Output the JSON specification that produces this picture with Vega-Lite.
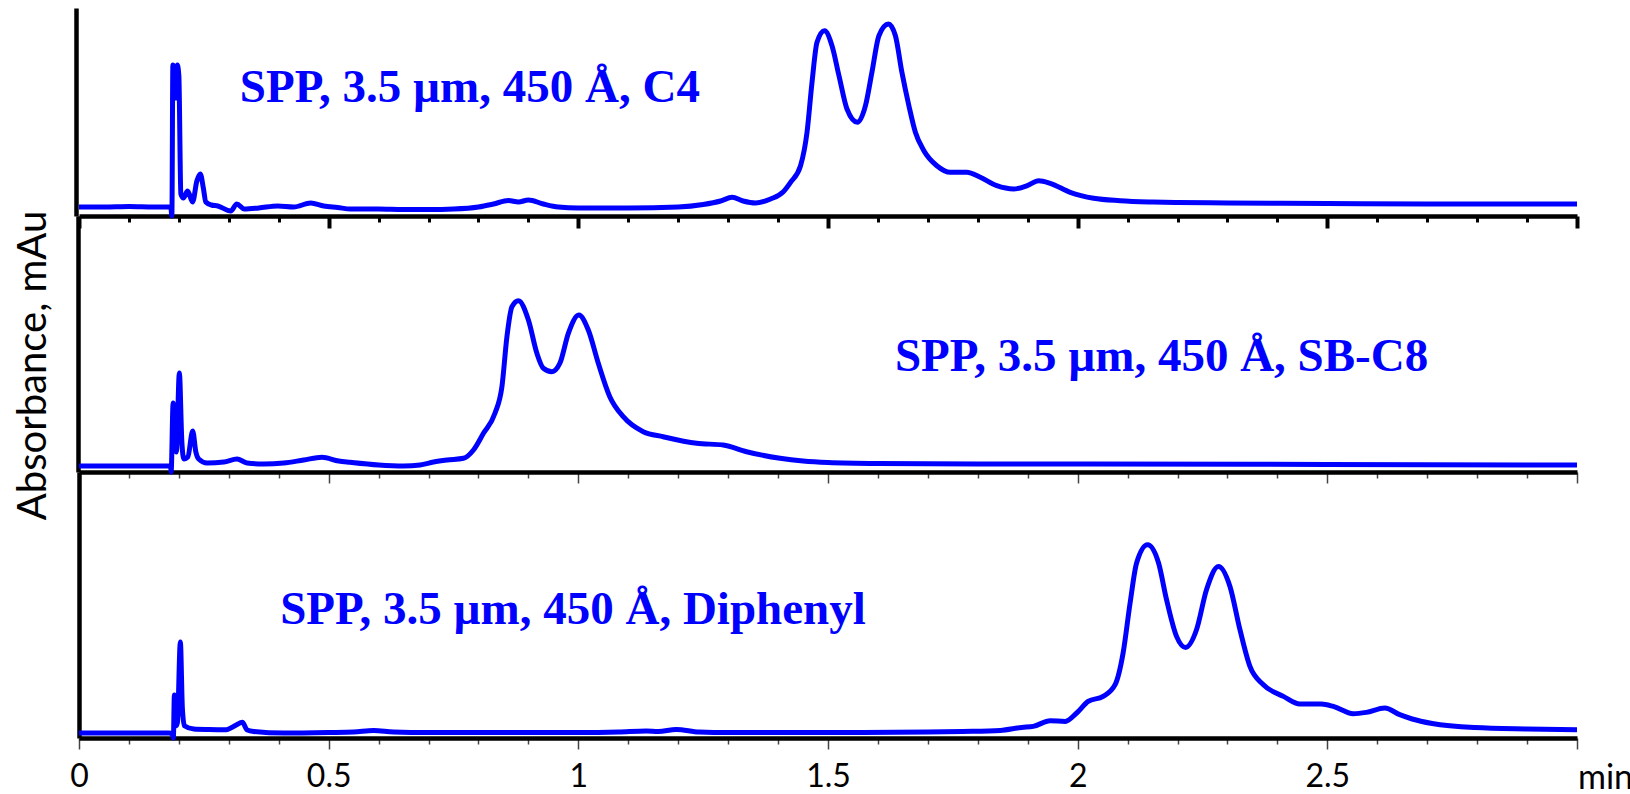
{
  "$schema": "https://vega.github.io/schema/vega-lite/v6.json",
  "background": "white",
  "padding": {"left": 12, "top": 8, "right": 2, "bottom": 0},
  "spacing": 0,
  "bounds": "flush",
  "config": {"view": {"stroke": null}, "axis": {"grid": false}},
  "datasets": {
    "traces": [
      {"column":"C4","time":0,"mAu":9},{"column":"C4","time":0.05,"mAu":9},{"column":"C4","time":0.1,"mAu":9.5},{"column":"C4","time":0.15,"mAu":9},{"column":"C4","time":0.18,"mAu":9},{"column":"C4","time":0.184,"mAu":8},{"column":"C4","time":0.186,"mAu":0},{"column":"C4","time":0.188,"mAu":151},{"column":"C4","time":0.191,"mAu":125},{"column":"C4","time":0.194,"mAu":118},{"column":"C4","time":0.197,"mAu":151},{"column":"C4","time":0.2,"mAu":140},{"column":"C4","time":0.204,"mAu":22},{"column":"C4","time":0.209,"mAu":18},{"column":"C4","time":0.2175,"mAu":25},{"column":"C4","time":0.2275,"mAu":14},{"column":"C4","time":0.236,"mAu":35},{"column":"C4","time":0.243,"mAu":42},{"column":"C4","time":0.249,"mAu":28},{"column":"C4","time":0.254,"mAu":14},{"column":"C4","time":0.265,"mAu":11},{"column":"C4","time":0.278,"mAu":10},{"column":"C4","time":0.304,"mAu":5},{"column":"C4","time":0.316,"mAu":12},{"column":"C4","time":0.331,"mAu":7},{"column":"C4","time":0.36,"mAu":8},{"column":"C4","time":0.398,"mAu":10},{"column":"C4","time":0.43,"mAu":9},{"column":"C4","time":0.464,"mAu":13},{"column":"C4","time":0.49,"mAu":10},{"column":"C4","time":0.518,"mAu":8.5},{"column":"C4","time":0.544,"mAu":7},{"column":"C4","time":0.6,"mAu":7},{"column":"C4","time":0.65,"mAu":6.5},{"column":"C4","time":0.7,"mAu":6.5},{"column":"C4","time":0.75,"mAu":7},{"column":"C4","time":0.8,"mAu":9},{"column":"C4","time":0.83,"mAu":12},{"column":"C4","time":0.86,"mAu":15.5},{"column":"C4","time":0.88,"mAu":14},{"column":"C4","time":0.9,"mAu":16},{"column":"C4","time":0.93,"mAu":12},{"column":"C4","time":0.96,"mAu":9},{"column":"C4","time":1.0,"mAu":8},{"column":"C4","time":1.1,"mAu":8},{"column":"C4","time":1.2,"mAu":9},{"column":"C4","time":1.25,"mAu":11.5},{"column":"C4","time":1.285,"mAu":15},{"column":"C4","time":1.308,"mAu":18.7},{"column":"C4","time":1.33,"mAu":15},{"column":"C4","time":1.355,"mAu":13},{"column":"C4","time":1.385,"mAu":17},{"column":"C4","time":1.41,"mAu":24},{"column":"C4","time":1.425,"mAu":33.7},{"column":"C4","time":1.445,"mAu":50.3},{"column":"C4","time":1.458,"mAu":83.7},{"column":"C4","time":1.468,"mAu":133.7},{"column":"C4","time":1.478,"mAu":173.7},{"column":"C4","time":1.493,"mAu":185.3},{"column":"C4","time":1.508,"mAu":170.3},{"column":"C4","time":1.522,"mAu":140.3},{"column":"C4","time":1.538,"mAu":107},{"column":"C4","time":1.559,"mAu":93.7},{"column":"C4","time":1.575,"mAu":110.3},{"column":"C4","time":1.588,"mAu":143.7},{"column":"C4","time":1.602,"mAu":180.3},{"column":"C4","time":1.621,"mAu":192},{"column":"C4","time":1.635,"mAu":180.3},{"column":"C4","time":1.648,"mAu":143.7},{"column":"C4","time":1.662,"mAu":110.3},{"column":"C4","time":1.675,"mAu":83.7},{"column":"C4","time":1.692,"mAu":65.3},{"column":"C4","time":1.718,"mAu":50.3},{"column":"C4","time":1.745,"mAu":43.7},{"column":"C4","time":1.778,"mAu":43.7},{"column":"C4","time":1.805,"mAu":38.7},{"column":"C4","time":1.838,"mAu":30.3},{"column":"C4","time":1.872,"mAu":27},{"column":"C4","time":1.899,"mAu":30.3},{"column":"C4","time":1.922,"mAu":35.3},{"column":"C4","time":1.945,"mAu":32.7},{"column":"C4","time":1.985,"mAu":23.7},{"column":"C4","time":2.032,"mAu":17.7},{"column":"C4","time":2.085,"mAu":15.3},{"column":"C4","time":2.15,"mAu":14},{"column":"C4","time":2.2,"mAu":13.5},{"column":"C4","time":2.3,"mAu":13},{"column":"C4","time":2.5,"mAu":12.5},{"column":"C4","time":2.7,"mAu":12},{"column":"C4","time":3.0,"mAu":12},

      {"column":"SB-C8","time":0,"mAu":6},{"column":"SB-C8","time":0.1,"mAu":6},{"column":"SB-C8","time":0.17,"mAu":6},{"column":"SB-C8","time":0.1835,"mAu":6},{"column":"SB-C8","time":0.1845,"mAu":0},{"column":"SB-C8","time":0.1885,"mAu":69},{"column":"SB-C8","time":0.195,"mAu":20},{"column":"SB-C8","time":0.201,"mAu":99},{"column":"SB-C8","time":0.206,"mAu":30},{"column":"SB-C8","time":0.21,"mAu":13},{"column":"SB-C8","time":0.218,"mAu":15},{"column":"SB-C8","time":0.2277,"mAu":41},{"column":"SB-C8","time":0.234,"mAu":20},{"column":"SB-C8","time":0.2397,"mAu":13},{"column":"SB-C8","time":0.2565,"mAu":9},{"column":"SB-C8","time":0.29,"mAu":10},{"column":"SB-C8","time":0.3165,"mAu":13},{"column":"SB-C8","time":0.3365,"mAu":9},{"column":"SB-C8","time":0.37,"mAu":8},{"column":"SB-C8","time":0.41,"mAu":9},{"column":"SB-C8","time":0.45,"mAu":12},{"column":"SB-C8","time":0.4866,"mAu":14.7},{"column":"SB-C8","time":0.52,"mAu":11},{"column":"SB-C8","time":0.543,"mAu":9.7},{"column":"SB-C8","time":0.6,"mAu":7},{"column":"SB-C8","time":0.65,"mAu":6},{"column":"SB-C8","time":0.683,"mAu":7},{"column":"SB-C8","time":0.71,"mAu":10},{"column":"SB-C8","time":0.737,"mAu":12},{"column":"SB-C8","time":0.77,"mAu":13.7},{"column":"SB-C8","time":0.79,"mAu":22},{"column":"SB-C8","time":0.81,"mAu":38.7},{"column":"SB-C8","time":0.833,"mAu":58.7},{"column":"SB-C8","time":0.847,"mAu":85.3},{"column":"SB-C8","time":0.857,"mAu":135.3},{"column":"SB-C8","time":0.867,"mAu":165.3},{"column":"SB-C8","time":0.88,"mAu":171.3},{"column":"SB-C8","time":0.9,"mAu":152},{"column":"SB-C8","time":0.917,"mAu":118.7},{"column":"SB-C8","time":0.93,"mAu":103.7},{"column":"SB-C8","time":0.947,"mAu":100.3},{"column":"SB-C8","time":0.963,"mAu":108.7},{"column":"SB-C8","time":0.98,"mAu":138.7},{"column":"SB-C8","time":1.001,"mAu":157},{"column":"SB-C8","time":1.02,"mAu":142},{"column":"SB-C8","time":1.04,"mAu":108.7},{"column":"SB-C8","time":1.063,"mAu":75.3},{"column":"SB-C8","time":1.09,"mAu":55.3},{"column":"SB-C8","time":1.13,"mAu":40.3},{"column":"SB-C8","time":1.17,"mAu":35.3},{"column":"SB-C8","time":1.237,"mAu":28.7},{"column":"SB-C8","time":1.29,"mAu":27},{"column":"SB-C8","time":1.337,"mAu":20.3},{"column":"SB-C8","time":1.404,"mAu":13.7},{"column":"SB-C8","time":1.45,"mAu":11},{"column":"SB-C8","time":1.5,"mAu":9.5},{"column":"SB-C8","time":1.6,"mAu":8.5},{"column":"SB-C8","time":1.8,"mAu":8},{"column":"SB-C8","time":2.0,"mAu":8},{"column":"SB-C8","time":2.5,"mAu":7.5},{"column":"SB-C8","time":3.0,"mAu":7},

      {"column":"Diphenyl","time":0,"mAu":5},{"column":"Diphenyl","time":0.1,"mAu":5},{"column":"Diphenyl","time":0.18,"mAu":5},{"column":"Diphenyl","time":0.187,"mAu":4},{"column":"Diphenyl","time":0.189,"mAu":0},{"column":"Diphenyl","time":0.191,"mAu":43},{"column":"Diphenyl","time":0.194,"mAu":12},{"column":"Diphenyl","time":0.197,"mAu":15},{"column":"Diphenyl","time":0.203,"mAu":96},{"column":"Diphenyl","time":0.207,"mAu":30},{"column":"Diphenyl","time":0.211,"mAu":12.3},{"column":"Diphenyl","time":0.23,"mAu":9},{"column":"Diphenyl","time":0.26,"mAu":8.5},{"column":"Diphenyl","time":0.295,"mAu":8.3},{"column":"Diphenyl","time":0.315,"mAu":13},{"column":"Diphenyl","time":0.327,"mAu":15.7},{"column":"Diphenyl","time":0.337,"mAu":8},{"column":"Diphenyl","time":0.35,"mAu":6.6},{"column":"Diphenyl","time":0.41,"mAu":5},{"column":"Diphenyl","time":0.5,"mAu":5.5},{"column":"Diphenyl","time":0.55,"mAu":6},{"column":"Diphenyl","time":0.59,"mAu":7.5},{"column":"Diphenyl","time":0.63,"mAu":6},{"column":"Diphenyl","time":0.7,"mAu":5.5},{"column":"Diphenyl","time":0.8,"mAu":5.5},{"column":"Diphenyl","time":0.9,"mAu":5.5},{"column":"Diphenyl","time":1.0,"mAu":5.5},{"column":"Diphenyl","time":1.08,"mAu":6},{"column":"Diphenyl","time":1.136,"mAu":7},{"column":"Diphenyl","time":1.16,"mAu":6.5},{"column":"Diphenyl","time":1.196,"mAu":8.6},{"column":"Diphenyl","time":1.242,"mAu":6},{"column":"Diphenyl","time":1.3,"mAu":5.5},{"column":"Diphenyl","time":1.4,"mAu":5.5},{"column":"Diphenyl","time":1.57,"mAu":5.6},{"column":"Diphenyl","time":1.7,"mAu":6},{"column":"Diphenyl","time":1.769,"mAu":6.6},{"column":"Diphenyl","time":1.845,"mAu":7.6},{"column":"Diphenyl","time":1.888,"mAu":10.6},{"column":"Diphenyl","time":1.911,"mAu":11.6},{"column":"Diphenyl","time":1.945,"mAu":17.3},{"column":"Diphenyl","time":1.975,"mAu":16.6},{"column":"Diphenyl","time":1.998,"mAu":25},{"column":"Diphenyl","time":2.021,"mAu":36.6},{"column":"Diphenyl","time":2.051,"mAu":41.6},{"column":"Diphenyl","time":2.075,"mAu":53.3},{"column":"Diphenyl","time":2.091,"mAu":85},{"column":"Diphenyl","time":2.105,"mAu":135},{"column":"Diphenyl","time":2.118,"mAu":175},{"column":"Diphenyl","time":2.14,"mAu":193.3},{"column":"Diphenyl","time":2.162,"mAu":175},{"column":"Diphenyl","time":2.178,"mAu":138.3},{"column":"Diphenyl","time":2.198,"mAu":101.6},{"column":"Diphenyl","time":2.216,"mAu":90.6},{"column":"Diphenyl","time":2.238,"mAu":108.3},{"column":"Diphenyl","time":2.258,"mAu":148.3},{"column":"Diphenyl","time":2.282,"mAu":171.6},{"column":"Diphenyl","time":2.305,"mAu":151.6},{"column":"Diphenyl","time":2.325,"mAu":108.3},{"column":"Diphenyl","time":2.345,"mAu":71.6},{"column":"Diphenyl","time":2.372,"mAu":53.3},{"column":"Diphenyl","time":2.412,"mAu":41.6},{"column":"Diphenyl","time":2.445,"mAu":34},{"column":"Diphenyl","time":2.488,"mAu":34},{"column":"Diphenyl","time":2.512,"mAu":31.6},{"column":"Diphenyl","time":2.552,"mAu":24.3},{"column":"Diphenyl","time":2.578,"mAu":25.6},{"column":"Diphenyl","time":2.615,"mAu":30},{"column":"Diphenyl","time":2.645,"mAu":23.3},{"column":"Diphenyl","time":2.67,"mAu":19},{"column":"Diphenyl","time":2.71,"mAu":14.5},{"column":"Diphenyl","time":2.795,"mAu":10.4},{"column":"Diphenyl","time":2.9,"mAu":9},{"column":"Diphenyl","time":3.0,"mAu":8.3}
    ],
    "labels": [
      {"column":"C4","time":0.322,"mAu":114,"label":"SPP, 3.5 µm, 450 Å, C4"},
      {"column":"SB-C8","time":1.634,"mAu":101,"label":"SPP, 3.5 µm, 450 Å, SB-C8"},
      {"column":"Diphenyl","time":0.403,"mAu":114,"label":"SPP, 3.5 µm, 450 Å, Diphenyl"}
    ]
  },
  "vconcat": [
    {
      "width": 1498, "height": 208,
      "layer": [
        {
          "data": {"name": "traces"},
          "transform": [{"filter": "datum.column === 'C4'"}],
          "mark": {"type": "line", "color": "#0000ff", "strokeWidth": 5, "interpolate": "monotone"},
          "encoding": {
            "x": {"field": "time", "type": "quantitative", "scale": {"domain": [0, 3], "nice": false, "zero": false},
              "axis": {"title": null, "values": [0,0.1,0.2,0.3,0.4,0.5,0.6,0.7,0.8,0.9,1,1.1,1.2,1.3,1.4,1.5,1.6,1.7,1.8,1.9,2,2.1,2.2,2.3,2.4,2.5,2.6,2.7,2.8,2.9,3],
                "labels": false, "domainColor": "black", "domainWidth": 4.5, "tickColor": "black",
                "tickWidth": {"condition": {"test": "abs(datum.value*2 - round(datum.value*2)) < 0.001", "value": 4}, "value": 3},
                "tickSize": {"condition": {"test": "abs(datum.value*2 - round(datum.value*2)) < 0.001", "value": 12}, "value": 6}}},
            "y": {"field": "mAu", "type": "quantitative", "scale": {"domain": [0, 208], "nice": false},
              "axis": {"title": null, "labels": false, "ticks": false, "domainColor": "black", "domainWidth": 4.5, "offset": 3}}
          }
        },
        {
          "data": {"name": "labels"},
          "transform": [{"filter": "datum.column === 'C4'"}],
          "mark": {"type": "text", "align": "left", "baseline": "alphabetic", "font": "Liberation Serif", "fontWeight": "bold", "fontSize": 47, "color": "#0000ff"},
          "encoding": {
            "x": {"field": "time", "type": "quantitative"},
            "y": {"field": "mAu", "type": "quantitative"},
            "text": {"field": "label"}
          }
        }
      ]
    },
    {
      "width": 1498, "height": 256,
      "layer": [
        {
          "data": {"name": "traces"},
          "transform": [{"filter": "datum.column === 'SB-C8'"}],
          "mark": {"type": "line", "color": "#0000ff", "strokeWidth": 5, "interpolate": "monotone"},
          "encoding": {
            "x": {"field": "time", "type": "quantitative", "scale": {"domain": [0, 3], "nice": false, "zero": false},
              "axis": {"title": null, "values": [0,0.1,0.2,0.3,0.4,0.5,0.6,0.7,0.8,0.9,1,1.1,1.2,1.3,1.4,1.5,1.6,1.7,1.8,1.9,2,2.1,2.2,2.3,2.4,2.5,2.6,2.7,2.8,2.9,3],
                "labels": false, "domainColor": "black", "domainWidth": 4.5, "tickColor": "#444",
                "tickWidth": 1.5,
                "tickSize": {"condition": {"test": "abs(datum.value*2 - round(datum.value*2)) < 0.001", "value": 11}, "value": 6}}},
            "y": {"field": "mAu", "type": "quantitative", "scale": {"domain": [0, 256], "nice": false},
              "axis": {"title": "Absorbance, mAu", "titleFont": "Lato", "titleFontSize": 40, "titleFontWeight": "normal", "titleColor": "black", "titlePadding": 25, "titleY": 149,
                "labels": false, "ticks": false, "domainColor": "black", "domainWidth": 4.5, "offset": 1}}
          }
        },
        {
          "data": {"name": "labels"},
          "transform": [{"filter": "datum.column === 'SB-C8'"}],
          "mark": {"type": "text", "align": "left", "baseline": "alphabetic", "font": "Liberation Serif", "fontWeight": "bold", "fontSize": 47, "color": "#0000ff"},
          "encoding": {
            "x": {"field": "time", "type": "quantitative"},
            "y": {"field": "mAu", "type": "quantitative"},
            "text": {"field": "label"}
          }
        }
      ]
    },
    {
      "width": 1498, "height": 266,
      "layer": [
        {
          "data": {"name": "traces"},
          "transform": [{"filter": "datum.column === 'Diphenyl'"}],
          "mark": {"type": "line", "color": "#0000ff", "strokeWidth": 5, "interpolate": "monotone"},
          "encoding": {
            "x": {"field": "time", "type": "quantitative", "scale": {"domain": [0, 3], "nice": false, "zero": false},
              "axis": {"title": null, "values": [0,0.1,0.2,0.3,0.4,0.5,0.6,0.7,0.8,0.9,1,1.1,1.2,1.3,1.4,1.5,1.6,1.7,1.8,1.9,2,2.1,2.2,2.3,2.4,2.5,2.6,2.7,2.8,2.9,3],
                "domainColor": "black", "domainWidth": 4.5, "tickColor": "#444", "tickWidth": 1.5,
                "tickSize": {"condition": {"test": "abs(datum.value*2 - round(datum.value*2)) < 0.001", "value": 11}, "value": 6},
                "labelExpr": "abs(datum.value*2 - round(datum.value*2)) < 0.001 ? (datum.value > 2.99 ? 'min' : format(datum.value, '~g')) : ''",
                "labelOffset": {"condition": {"test": "datum.value > 2.99", "value": 28}, "value": 0},
                "labelFontSize": {"condition": {"test": "datum.value > 2.99", "value": 34}, "value": 32},
                "labelFont": {"condition": {"test": "datum.value > 2.99", "value": "Liberation Sans Narrow, Lato"}, "value": "Lato"},
                "labelColor": "black", "labelPadding": 12,
                "labelOverlap": false, "labelFlush": false, "labelBound": false}},
            "y": {"field": "mAu", "type": "quantitative", "scale": {"domain": [0, 266], "nice": false},
              "axis": {"title": null, "labels": false, "ticks": false, "domainColor": "black", "domainWidth": 4.5, "offset": 0}}
          }
        },
        {
          "data": {"name": "labels"},
          "transform": [{"filter": "datum.column === 'Diphenyl'"}],
          "mark": {"type": "text", "align": "left", "baseline": "alphabetic", "font": "Liberation Serif", "fontWeight": "bold", "fontSize": 47, "color": "#0000ff"},
          "encoding": {
            "x": {"field": "time", "type": "quantitative"},
            "y": {"field": "mAu", "type": "quantitative"},
            "text": {"field": "label"}
          }
        }
      ]
    }
  ]
}
